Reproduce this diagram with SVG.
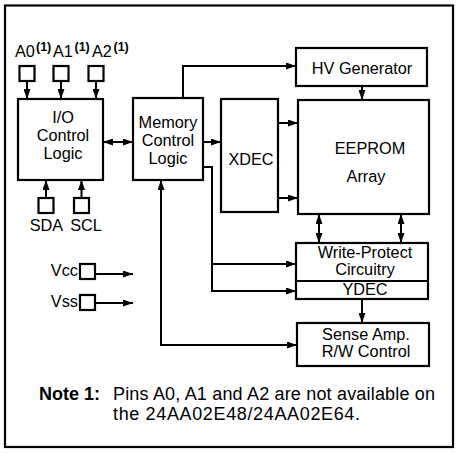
<svg xmlns="http://www.w3.org/2000/svg" width="460" height="453" viewBox="0 0 460 453">
<defs>
<style>
.box{fill:#fff;stroke:#000;stroke-width:2.2}
.ln{fill:none;stroke:#000;stroke-width:2}
.t{font-family:"Liberation Sans",Arial,sans-serif;font-size:16.3px;fill:#000}
.c{text-anchor:middle}
.sup{font-family:"Liberation Sans",Arial,sans-serif;font-size:12.5px;font-weight:bold;fill:#000}
.note{font-family:"Liberation Sans",Arial,sans-serif;font-size:18px;fill:#000}
</style>
<marker id="ah" viewBox="0 0 10 7" refX="10" refY="3.5" markerWidth="10" markerHeight="7" markerUnits="userSpaceOnUse" orient="auto-start-reverse">
<path d="M0,0 L10,3.5 L0,7 z" fill="#000"/>
</marker>
</defs>
<rect x="0" y="0" width="460" height="453" fill="#fff"/>
<rect x="5" y="5.5" width="448" height="441.5" fill="none" stroke="#000" stroke-width="2.2"/>

<g id="connectors" class="ln">
<line x1="27" y1="81" x2="27" y2="99" marker-end="url(#ah)"/>
<line x1="61" y1="81" x2="61" y2="99" marker-end="url(#ah)"/>
<line x1="96" y1="81" x2="96" y2="99" marker-end="url(#ah)"/>
<line x1="46" y1="198" x2="46" y2="180" marker-end="url(#ah)"/>
<line x1="81.5" y1="198" x2="81.5" y2="180" marker-end="url(#ah)"/>
<line x1="103" y1="142" x2="133" y2="142" marker-start="url(#ah)" marker-end="url(#ah)"/>
<line x1="203" y1="142" x2="221" y2="142" marker-end="url(#ah)"/>
<polyline points="183,98 183,66 296,66" marker-end="url(#ah)"/>
<line x1="362" y1="86" x2="362" y2="100" marker-end="url(#ah)"/>
<line x1="278" y1="123" x2="298" y2="123" marker-end="url(#ah)"/>
<line x1="278" y1="198" x2="298" y2="198" marker-end="url(#ah)"/>
<polyline points="203,167 212,167 212,264 296,264" marker-end="url(#ah)"/>
<polyline points="212,263 212,291 296,291" marker-end="url(#ah)"/>
<polyline points="161,180 161,345 297,345" marker-start="url(#ah)" marker-end="url(#ah)"/>
<line x1="319" y1="214" x2="319" y2="243" marker-start="url(#ah)" marker-end="url(#ah)"/>
<line x1="401" y1="214" x2="401" y2="243" marker-start="url(#ah)" marker-end="url(#ah)"/>
<line x1="362" y1="299" x2="362" y2="323" marker-end="url(#ah)"/>
<line x1="95" y1="274" x2="133" y2="274" marker-end="url(#ah)"/>
<line x1="95" y1="303" x2="133" y2="303" marker-end="url(#ah)"/>
</g>

<g id="pinA0"><rect class="box" x="19.5" y="66" width="15" height="15"/>
<text class="t" x="15" y="57">A0</text><text class="sup" x="36" y="51">(1)</text></g>
<g id="pinA1"><rect class="box" x="53.5" y="66" width="15" height="15"/>
<text class="t" x="53" y="57">A1</text><text class="sup" x="74.5" y="51">(1)</text></g>
<g id="pinA2"><rect class="box" x="88.5" y="66" width="15" height="15"/>
<text class="t" x="92" y="57">A2</text><text class="sup" x="113.5" y="51">(1)</text></g>

<g id="io"><rect class="box" x="18" y="99" width="85" height="81"/>
<text class="t c" x="63" y="123">I/O</text>
<text class="t c" x="63" y="141">Control</text>
<text class="t c" x="63" y="159">Logic</text></g>

<g id="pinSDA"><rect class="box" x="38.5" y="198" width="15" height="15"/>
<text class="t c" x="46.5" y="231">SDA</text></g>
<g id="pinSCL"><rect class="box" x="74" y="198" width="15" height="15"/>
<text class="t c" x="86" y="231">SCL</text></g>

<g id="mem"><rect class="box" x="133" y="98" width="70" height="82"/>
<text class="t c" x="168" y="128">Memory</text>
<text class="t c" x="168" y="146">Control</text>
<text class="t c" x="168" y="164">Logic</text></g>

<g id="xdec"><rect class="box" x="221" y="99" width="57" height="113"/>
<text class="t c" x="251" y="165">XDEC</text></g>

<g id="hv"><rect class="box" x="296" y="48" width="131" height="38"/>
<text class="t c" x="362" y="74">HV Generator</text></g>

<g id="eeprom"><rect class="box" x="298" y="100" width="131" height="114"/>
<text class="t c" x="370" y="154">EEPROM</text>
<text class="t c" x="366" y="182">Array</text></g>

<g id="wp"><rect class="box" x="296" y="243" width="132" height="56"/>
<line x1="296" y1="281" x2="428" y2="281" stroke="#000" stroke-width="2"/>
<text class="t c" x="365" y="258">Write-Protect</text>
<text class="t c" x="365" y="275">Circuitry</text>
<text class="t c" x="365" y="295">YDEC</text></g>

<g id="sense"><rect class="box" x="297" y="323" width="132" height="43"/>
<text class="t c" x="366" y="340">Sense Amp.</text>
<text class="t c" x="366" y="357">R/W Control</text></g>

<g id="vcc"><rect class="box" x="80" y="264" width="15" height="15"/>
<text class="t" x="78" y="276" text-anchor="end">Vcc</text></g>
<g id="vss"><rect class="box" x="80" y="295" width="15" height="15"/>
<text class="t" x="78" y="307" text-anchor="end">Vss</text></g>

<g id="note">
<text class="note" x="39" y="400" font-weight="bold">Note 1:</text>
<text class="note" x="113" y="400" textLength="322" lengthAdjust="spacing">Pins A0, A1 and A2 are not available on</text>
<text class="note" x="113" y="420" textLength="247" lengthAdjust="spacing">the 24AA02E48/24AA02E64.</text>
</g>
</svg>
